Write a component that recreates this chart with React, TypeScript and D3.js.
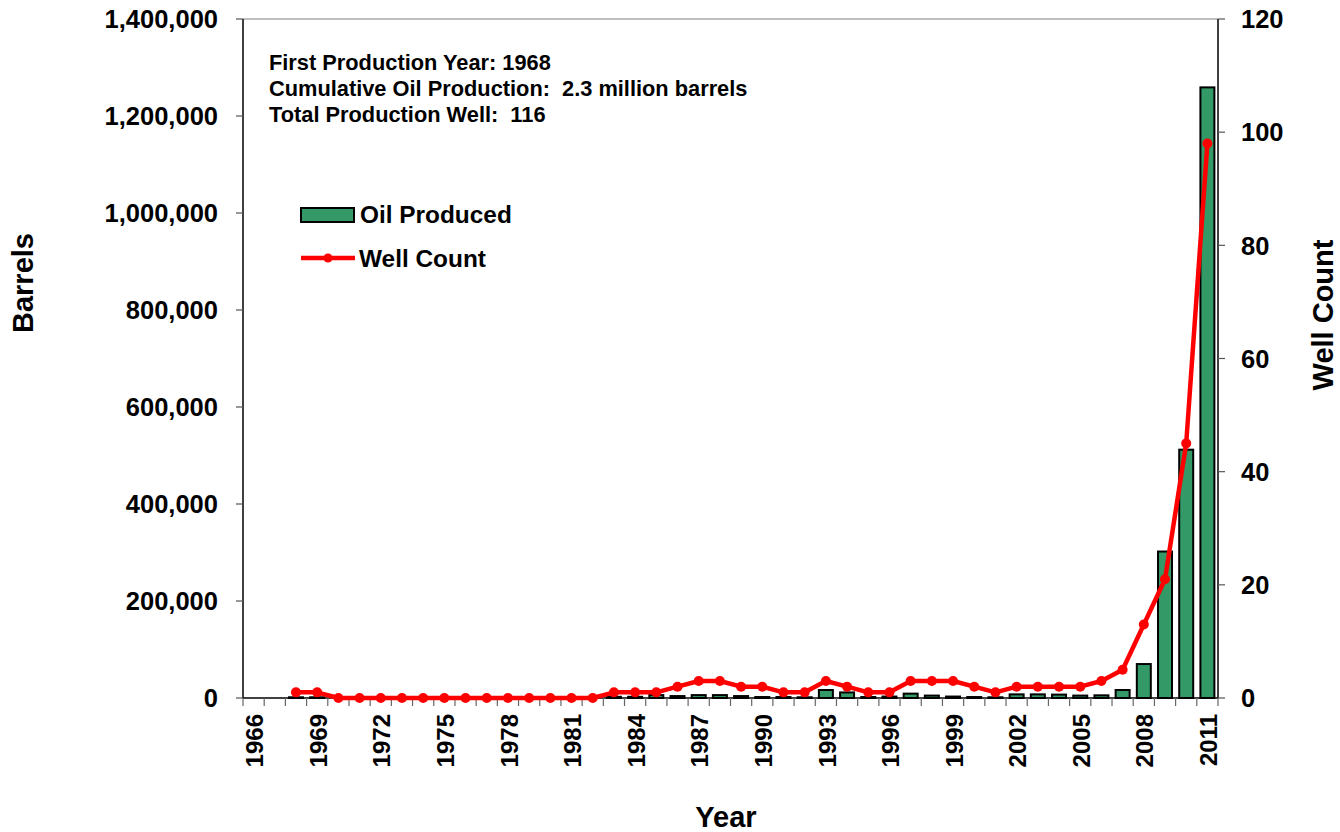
import React from "react";
import * as d3 from "d3";

const years: number[] = d3.range(1966, 2012);
const oilProduced: (number | null)[] = [
  null, null, 1500, 1500,
  null, null, null, null, null, null, null, null, null, null, null, null, null,
  2500, 2500, 6000, 4000, 6000, 6000, 4000, 2000, 2000, 1500,
  16500, 11500, 2000, 3000, 9000, 5000, 3000, 2000, 1500,
  7500, 7500, 7000, 5000, 5500, 16500, 70000, 302000, 512000, 1259000,
];
const wellCount: (number | null)[] = [
  null, null, 1, 1,
  0, 0, 0, 0, 0, 0, 0, 0, 0, 0, 0, 0, 0,
  1, 1, 1, 2, 3, 3, 2, 2, 1, 1,
  3, 2, 1, 1, 3, 3, 3, 2, 1,
  2, 2, 2, 2, 3, 5, 13, 21, 45, 98,
];
const leftTicks: number[] = [0, 200000, 400000, 600000, 800000, 1000000, 1200000, 1400000];
const rightTicks: number[] = [0, 20, 40, 60, 80, 100, 120];
const yearLabels: number[] = d3.range(1966, 2012, 3);
const infoLines: string[] = [
  "First Production Year: 1968",
  "Cumulative Oil Production:  2.3 million barrels",
  "Total Production Well:  116",
];

const W = 1340, H = 832;
const L = 243, R = 1218, T = 19, B = 698;
const FONT = "'Liberation Sans', Arial, sans-serif";
const GREEN = "#339966";
const RED = "#FF0000";

export default function App() {
  const x = d3.scaleBand<number>().domain(years).range([L, R]).paddingInner(0.34).paddingOuter(0.17);
  const step = (R - L) / years.length;
  const yL = d3.scaleLinear().domain([0, 1400000]).range([B, T]);
  const yR = d3.scaleLinear().domain([0, 120]).range([B, T]);
  const fmt = d3.format(",");
  const cx = (yr: number) => (x(yr) as number) + x.bandwidth() / 2;

  const wellPts = years
    .map((yr, i) => ({ yr, v: wellCount[i] }))
    .filter((d) => d.v !== null) as { yr: number; v: number }[];
  const line = d3
    .line<{ yr: number; v: number }>()
    .x((d) => cx(d.yr))
    .y((d) => yR(d.v))
    .curve(d3.curveLinear);

  return (
    <svg width={W} height={H} style={{ position: "absolute", left: 0, top: 0, display: "block", background: "#fff" }} fontFamily={FONT} fontWeight="bold">
      <line x1={L} x2={R} y1={T} y2={T} stroke="#808080" strokeWidth={1} />
      {years.map((yr, i) => {
        const v = oilProduced[i];
        if (v === null) return null;
        const y0 = yL(v);
        return (
          <rect key={yr} x={x(yr)} y={y0} width={x.bandwidth()} height={Math.max(0.5, B - y0)} fill={GREEN} stroke="#000" strokeWidth={2} />
        );
      })}
      <line x1={L} x2={L} y1={T} y2={B} stroke="#000" strokeWidth={1.5} />
      <line x1={R} x2={R} y1={T} y2={B} stroke="#000" strokeWidth={1.5} />
      <line x1={L} x2={R} y1={B} y2={B} stroke="#000" strokeWidth={1.5} />
      {leftTicks.map((t) => (
        <g key={"l" + t}>
          <line x1={L - 7} x2={L} y1={yL(t)} y2={yL(t)} stroke="#555" strokeWidth={1.2} />
          <text x={218} y={yL(t)} dy="0.36em" textAnchor="end" fontSize={25.5}>{fmt(t)}</text>
        </g>
      ))}
      {rightTicks.map((t) => (
        <g key={"r" + t}>
          <line x1={R} x2={R + 7} y1={yR(t)} y2={yR(t)} stroke="#555" strokeWidth={1.2} />
          <text x={1241} y={yR(t)} dy="0.36em" textAnchor="start" fontSize={25.5}>{t}</text>
        </g>
      ))}
      {d3.range(years.length + 1).map((i) => (
        <line key={"xt" + i} x1={L + i * step} x2={L + i * step} y1={B} y2={B + 8} stroke="#666" strokeWidth={1.2} />
      ))}
      {yearLabels.map((yr) => (
        <text key={"yl" + yr} transform={`translate(${cx(yr) + 1},${714}) rotate(-90)`} dy="0.36em" textAnchor="end" fontSize={24}>{yr}</text>
      ))}
      <path d={line(wellPts) || ""} fill="none" stroke={RED} strokeWidth={4.5} strokeLinejoin="round" />
      {wellPts.map((d) => (
        <circle key={"m" + d.yr} cx={cx(d.yr)} cy={yR(d.v)} r={5} fill={RED} />
      ))}
      {infoLines.map((s, i) => (
        <text key={"info" + i} x={269} y={70 + i * 26} fontSize={21.8} style={{ whiteSpace: "pre" }}>{s}</text>
      ))}
      <rect x={301} y={208} width={53} height={14} fill={GREEN} stroke="#000" strokeWidth={2} />
      <text x={360} y={223} fontSize={24.4}>Oil Produced</text>
      <line x1={301} x2={355} y1={258} y2={258} stroke={RED} strokeWidth={4.5} />
      <circle cx={328} cy={258} r={4.5} fill={RED} />
      <text x={359} y={267} fontSize={24.4}>Well Count</text>
      <text transform={`translate(33,283) rotate(-90)`} textAnchor="middle" fontSize={29}>Barrels</text>
      <text transform={`translate(1333,315) rotate(-90)`} textAnchor="middle" fontSize={29}>Well Count</text>
      <text x={726} y={827} textAnchor="middle" fontSize={29}>Year</text>
    </svg>
  );
}
